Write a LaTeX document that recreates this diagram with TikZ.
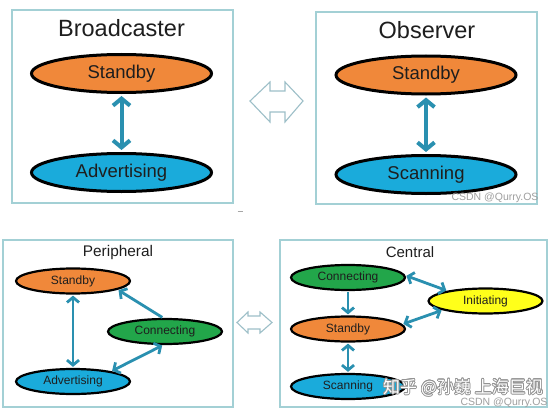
\documentclass[tikz,border=0pt]{standalone}
\usepackage{fontspec}
\setmainfont{Liberation Sans}
\newfontfamily\cjk{Noto Sans CJK SC}
\usepackage{contour}
\contourlength{0.7pt}
\usetikzlibrary{shapes.geometric,arrows.meta}
\definecolor{orng}{HTML}{F0883A}
\definecolor{blu}{HTML}{1AABDB}
\definecolor{grn}{HTML}{22A64A}
\definecolor{yel}{HTML}{FFFF1A}
\definecolor{tealarr}{HTML}{2A90B0}
\definecolor{boxcol}{HTML}{A3D0D5}
\definecolor{hollow}{HTML}{9DBFC8}
\definecolor{txt}{HTML}{1E1E1E}
\tikzset{
  panel/.style={draw=boxcol, line width=1.3pt},
  title/.style={text=txt, inner sep=0pt},
  bigst/.style={ellipse, draw=black, line width=3pt, minimum width=180pt, minimum height=38pt, inner sep=0pt, text=txt, font=\fontsize{18.5}{20}\selectfont},
  smst/.style={ellipse, draw=black, line width=2.2pt, minimum width=114pt, minimum height=25pt, inner sep=0pt, text=txt, font=\fontsize{12}{14}\selectfont},
  bigarr/.style={draw=tealarr, line width=4pt, {Straight Barb[length=7pt,width=17pt]}-{Straight Barb[length=7pt,width=17pt]}, shorten <=2pt, shorten >=2pt},
  smarr/.style={draw=tealarr, line width=2.8pt, shorten <=1pt, shorten >=1pt},
  dbl/.style={{Straight Barb[length=5pt,width=12pt]}-{Straight Barb[length=5pt,width=12pt]}},
  sgl/.style={-{Straight Barb[length=5pt,width=12pt]}},
  hollowarr/.style={draw=hollow, line width=1.1pt, line join=miter},
  wm/.style={text=gray!75, inner sep=0pt, font=\fontsize{10.5}{12}\selectfont}
}
\begin{document}
\begin{tikzpicture}[x=1pt,y=-1pt]
\useasboundingbox[fill=white] (0,0) rectangle (554,412);

% ---------- top-left: Broadcaster ----------
\draw[panel] (12,10) rectangle (233,203);
\node[title, font=\fontsize{23.5}{26}\selectfont] (bt) at (121.5,28) {Broadcaster};
\node[bigst, fill=orng] (bs) at (121.5,73.5) {Standby};
\node[bigst, fill=blu] (ba) at (121.5,172.5) {Advertising};
\draw[bigarr] (bs.south) -- (ba.north);

% ---------- top-right: Observer ----------
\draw[panel] (316,12) rectangle (537,204);
\node[title, font=\fontsize{23.5}{26}\selectfont] (ot) at (427,30) {Observer};
\node[bigst, fill=orng] (os) at (426,75) {Standby};
\node[bigst, fill=blu] (oc) at (426,174.5) {Scanning};
\draw[bigarr] (os.south) -- (oc.north);
\node[wm] (wm1) at (495,198) {CSDN @Qurry.OS};

% ---------- big hollow double arrow ----------
\draw[hollowarr] (250,101) -- (270,82) -- (270,91) -- (285,91) -- (285,82) -- (303,101)
  -- (285,122) -- (285,112) -- (270,112) -- (270,122) -- cycle;

% small artifact dash
\draw[gray!70, line width=0.8pt] (237.5,211) -- (242.5,211);

% ---------- bottom-left: Peripheral ----------
\draw[panel] (3,240) rectangle (233,407);
\node[title, font=\fontsize{15.4}{17}\selectfont] (pt) at (118,252.5) {Peripheral};
\node[smst, fill=orng] (ps) at (73,281) {Standby};
\node[smst, fill=grn] (pc) at (165,331.5) {Connecting};
\node[smst, fill=blu] (pa) at (73,381.5) {Advertising};
\draw[smarr, dbl] (ps.south) -- (pa.north);
\draw[smarr, sgl] (pc.98) -- (ps.-11);
\draw[smarr, dbl] (pa.15) -- (pc.-98);

% ---------- small hollow double arrow ----------
\draw[hollowarr] (237,322.5) -- (248,312) -- (248,316) -- (260,316) -- (260,312) -- (272,322.5)
  -- (260,333) -- (260,329) -- (248,329) -- (248,333) -- cycle;

% ---------- bottom-right: Central ----------
\draw[panel] (280,240) rectangle (547,407);
\node[title, font=\fontsize{15}{17}\selectfont] (ct) at (410,252.5) {Central};
\node[smst, fill=grn] (cc) at (348,277.5) {Connecting};
\node[smst, fill=orng] (cs) at (348,329) {Standby};
\node[smst, fill=blu] (cn) at (348,386.5) {Scanning};
\node[smst, fill=yel] (ci) at (485.5,301) {Initiating};
\draw[smarr, sgl] (cc.south) -- (cs.north);
\draw[smarr, dbl] (cs.south) -- (cn.north);
\draw[smarr, dbl] (cc.2) -- (ci.165);
\draw[smarr, dbl] (ci.192) -- (cs.5);

% watermarks
\node[inner sep=0pt, font=\cjk\fontsize{17}{19}\selectfont] (wm2) at (463,388) {\textcolor{white}{\contour{gray!85}{知乎 @孙巍 上海巨视}}};
\node[wm] (wm3) at (504,402.5) {CSDN @Qurry.OS};
\end{tikzpicture}
\end{document}
